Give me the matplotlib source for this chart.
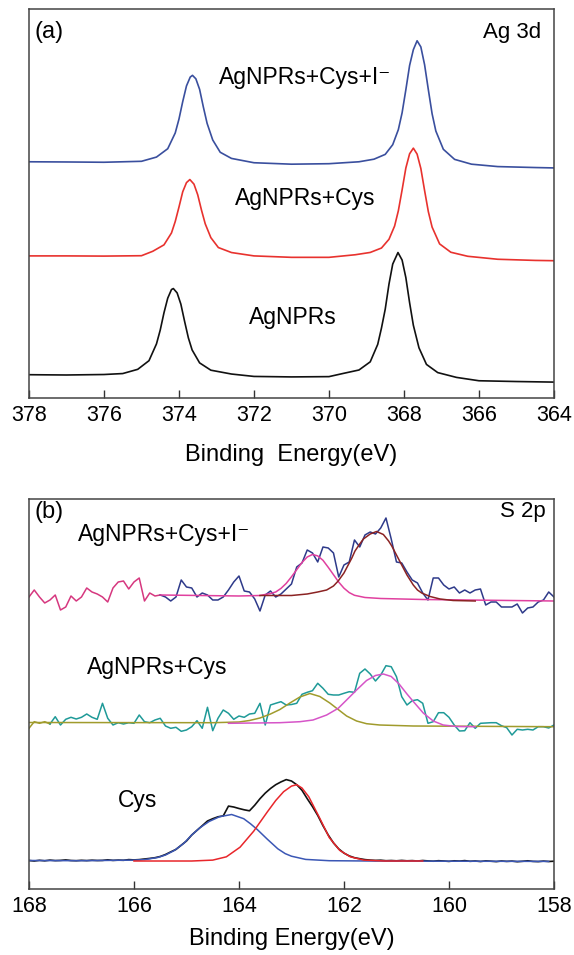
import matplotlib
matplotlib.use('Agg')
import matplotlib.pyplot as plt
import numpy as np

plt.rcParams['font.family'] = ['Liberation Sans', 'DejaVu Sans']
plt.rcParams['mathtext.default'] = 'regular'

# ---------------- (a) Ag 3d ----------------
ag_blue_x = [378.0, 377.0, 376.0, 375.5, 375.0, 374.6, 374.3, 374.1, 374.0, 373.9,
             373.8, 373.7, 373.64, 373.55, 373.45, 373.35, 373.25, 373.1, 372.9, 372.6,
             372.0, 371.0, 370.0, 369.2, 368.8, 368.5, 368.3, 368.15, 368.05, 367.95,
             367.85, 367.75, 367.65, 367.55, 367.45, 367.35, 367.25, 367.15, 366.95, 366.65,
             366.2, 365.5, 364.5, 364.0]
ag_blue_y = [246, 245.8, 245.5, 246, 246.5, 250.9, 259.6, 276, 290.5, 308.7,
             325, 334.2, 336, 332.4, 321.4, 303, 286, 268.7, 255.9, 249.5,
             245, 243.5, 244, 246, 248.7, 253.7, 263.8, 279.5, 297, 321,
             346.3, 362.7, 372, 365.6, 347, 321, 296, 278, 259, 248.5,
             243.5, 241, 240, 239.6]

ag_red_x = [378.0, 377.0, 376.0, 375.0, 374.7, 374.4, 374.2, 374.1, 374.0, 373.9,
            373.8, 373.71, 373.6, 373.5, 373.4, 373.3, 373.15, 372.95, 372.6, 372.0,
            371.0, 370.0, 369.3, 368.9, 368.6, 368.4, 368.25, 368.15, 368.05, 367.95,
            367.85, 367.75, 367.65, 367.55, 367.45, 367.35, 367.25, 367.05, 366.75, 366.3,
            365.5, 364.5, 364.0]
ag_red_y = [148, 148, 147.8, 148.2, 152.8, 159.5, 171.9, 183.8, 198.9, 214.8,
            224.3, 227.5, 222.7, 211.6, 195.7, 181.4, 167, 156.7, 151.5, 148,
            146.5, 146.5, 149.2, 151.6, 156.2, 165.3, 179.1, 195, 216.7, 239.5,
            254.3, 260.2, 254, 239, 216, 194, 178, 160.5, 151.8, 147.6,
            144.5, 143.3, 143]

ag_black_x = [378.0, 377.0, 376.0, 375.5, 375.1, 374.8, 374.6, 374.5, 374.4, 374.3,
              374.2, 374.15, 374.05, 373.95, 373.85, 373.75, 373.65, 373.45, 373.15, 372.6,
              372.0, 371.0, 370.0, 369.6, 369.2, 368.9, 368.7, 368.6, 368.5, 368.4,
              368.3, 368.16, 368.05, 367.95, 367.85, 367.75, 367.6, 367.4, 367.1, 366.6,
              366.0, 365.0, 364.0]
ag_black_y = [24.3, 24.0, 24.5, 25.5, 29.9, 38.9, 56.4, 70.8, 88.8, 104,
              113, 114, 109.5, 97.8, 79.8, 62.7, 50.1, 36.6, 29, 25,
              22.5, 22, 22.3, 25.8, 29.2, 37.7, 55.9, 72.9, 92.5, 118.6,
              139.5, 151.5, 143.7, 125.4, 99.3, 75.8, 52.3, 35, 26.5, 21.5,
              18, 17.2, 16.6]

# ---------------- (b) S 2p ----------------
# AgNPRs+Cys+I- : raw data (pink part 168.0-165.5, navy part 165.5-158.0, step 0.1 eV)
s_top_pink = [299, 306, 299, 293, 296, 301, 286, 289, 300, 295,
              299, 308, 304, 302, 299, 294, 308, 314, 315, 307,
              314, 318, 295, 303, 300, 301]
s_top_navy = [301, 299, 295, 299, 316, 309, 308, 299, 303, 301,
              296, 296, 299, 306, 314, 320, 305, 304, 297, 285,
              301, 305, 299, 302, 307, 312,
              329, 333, 346, 343, 334, 349, 348, 343, 319, 331,
              334, 356, 349, 361, 364, 362, 368, 378, 357, 334,
              333, 324, 316, 313, 303, 296, 318, 318, 311, 307,
              309, 303, 306, 303, 306, 307, 291, 294, 294, 289,
              289, 289, 292, 283, 288, 289, 294, 296, 304, 299]
s_top_fit1_x = [165.5, 164.0, 163.6, 163.4, 163.3, 163.2, 163.1, 163.0, 162.9, 162.8,
                162.7, 162.6, 162.5, 162.4, 162.3, 162.2, 162.1, 162.0, 161.9, 161.8,
                161.6, 161.3, 160.5, 158.0]
s_top_fit1_y = [301, 300, 300.5, 302.5, 304, 307.6, 312.6, 319.2, 326.3, 333.5,
                339, 341.5, 340.1, 335.7, 328.7, 321.3, 313.9, 307.8, 303.4, 300.7,
                298.5, 297.5, 296.5, 295]
s_top_fit2_x = [163.6, 163.0, 162.7, 162.5, 162.33, 162.2, 162.11, 162.0, 161.94, 161.85,
                161.79, 161.7, 161.63, 161.5, 161.38, 161.25, 161.15, 161.09, 160.96, 160.88,
                160.8, 160.68, 160.6, 160.52, 160.36, 160.17, 159.92, 159.5]
s_top_fit2_y = [300.5, 300.5, 302, 304, 306, 310, 315, 323, 329, 338,
                345, 352, 357, 362, 364.5, 361.5, 355, 350, 337, 329,
                321, 311, 306, 303, 299.5, 297, 295.5, 295]

# AgNPRs+Cys : raw data (olive part 168.0-167.6, teal part 167.6-158.0)
s_mid_olive = [167.7, 174.3, 172.7, 174.3, 172]
s_mid_teal = [172, 179.3, 171, 176.7, 178.7, 177, 178.7, 182, 178.7, 176.7,
              192.7, 177.7, 171, 173.3, 172, 173.3, 172.7, 181, 174.3, 173.3,
              176, 177.7, 170, 167.7, 168.7, 164.7, 166, 169.3, 175.3, 167.7,
              188.7, 165.3, 177.7, 186, 182.7, 176.7, 180, 178.7, 182, 182.7,
              192.7, 171, 191, 192.7, 194.3, 191, 191.5,
              192.7, 201.7, 203.7, 205.3, 212.7, 207.7, 201.7, 201, 201, 202.7,
              204.3, 203.7, 222.7, 227, 222, 215, 221, 230.3, 229.3, 219.3,
              199.3, 191, 195.3, 196.3, 192.7, 172.7, 174.3, 183.3, 183.3, 178.7,
              171, 165, 165.3, 173.3, 167.7, 172.7, 173, 173.3, 173.3, 170.3,
              168.3, 161, 166.7, 166, 166.7, 166, 169.3, 169.3, 168, 171]
s_mid_fit1_x = [168.0, 164.5, 164.0, 163.8, 163.6, 163.4, 163.22, 163.03, 162.84, 162.65,
                162.46, 162.27, 162.11, 161.95, 161.76, 161.57, 161.32, 160.68, 158.0]
s_mid_fit1_y = [173.5, 173.3, 174, 175.5, 178, 182, 186.5, 193, 199, 202.5,
                199.5, 193, 186.5, 180, 175, 172.3, 171, 170, 169.3]
s_mid_fit2_x = [164.2, 163.22, 162.84, 162.59, 162.33, 162.11, 161.95, 161.76, 161.57, 161.4,
                161.25, 161.1, 160.95, 160.8, 160.68, 160.49, 160.3, 160.11, 159.86, 159.5]
s_mid_fit2_y = [172.7, 173.3, 174.3, 176, 181, 187.7, 196, 206, 215.5, 220.5,
                222, 219.5, 212, 202, 194.5, 183, 175, 171, 169.5, 169.3]

# Cys : raw data 168.0-158.0, step 0.1 eV
s_cys = [35.5, 35, 35.7, 35.2, 35.9, 35.4, 35.6, 36.1, 35.5, 35.3,
         35.7, 35.4, 35.8, 35.5, 35.6, 36.2, 35.6, 35.9, 35.7, 36.4,
         36.1, 36.4, 37.0, 37.6, 38.3, 39.5, 41.5, 44.1, 46.6, 50.8,
         55.0, 61.0, 65.7, 70.3, 75.0, 77.3, 79.2, 80.1, 89.9, 89.0,
         87.5, 86.2, 85.2, 90.8, 97.3, 102.9, 107.5, 111.3, 114.1, 116.4,
         115.0, 111.3, 105.7, 97.3, 89.4, 80.6, 70.3, 61.0, 53.1, 47.1,
         42.9, 40.1, 38.3, 37.3, 36.4, 35.9, 35.6, 35.8, 35.3, 35.5,
         35.2, 35.6, 35.2, 35.4, 35.0, 35.5, 35.1, 34.8, 35.3, 35.0,
         34.6, 35.2, 34.9, 35.4, 34.7, 35.0, 34.5, 35.1, 34.8, 34.4,
         35.0, 34.6, 34.9, 34.3, 34.7, 35.2, 34.6, 34.4, 34.9, 34.5,
         34.8]
s_cys_fit1_x = [168.0, 167.0, 166.0, 165.8, 165.55, 165.4, 165.23, 165.05, 164.9, 164.75,
                164.57, 164.37, 164.14, 163.91, 163.78, 163.65, 163.46, 163.26, 163.12, 163.0,
                162.73, 162.28, 161.5, 160.0, 158.1]
s_cys_fit1_y = [35.5, 35.3, 35.9, 36.4, 38.5, 41.0, 45.6, 52.7, 61.0, 68.0,
                74.5, 79.3, 81.5, 77.3, 72.2, 66.4, 56.8, 47.2, 42.4, 39.8,
                36.6, 35.3, 35.0, 34.8, 34.6]
s_cys_fit2_x = [166.0, 164.9, 164.5, 164.24, 163.98, 163.72, 163.46, 163.3, 163.15, 163.0,
                162.9, 162.8, 162.67, 162.47, 162.28, 162.08, 161.88, 161.62, 161.23, 160.5]
s_cys_fit2_y = [35.0, 35.0, 35.9, 39.2, 48.8, 64.8, 84.1, 95.5, 104.3, 109.9,
                111.3, 108.0, 99.2, 78.7, 58.4, 45.6, 39.2, 35.9, 35.0, 35.0]

e_grid = np.round(np.arange(168.0, 157.95, -0.1), 1)
e_top_pink = e_grid[:len(s_top_pink)]
e_top_navy = e_grid[len(s_top_pink) - 1:]
e_mid_olive = e_grid[:len(s_mid_olive)]
e_mid_teal = e_grid[len(s_mid_olive) - 1:]
assert len(e_top_navy) == len(s_top_navy)
assert len(e_mid_teal) == len(s_mid_teal)
assert len(e_grid) == len(s_cys)


def style_axis(ax, xlim, xticks, ylim, xlabel, labelpad):
    ax.set_xlim(*xlim)
    ax.set_ylim(*ylim)
    ax.set_xticks(xticks)
    ax.set_yticks([])
    ax.tick_params(axis='x', direction='in', length=6, width=1.0,
                   labelsize=15.5, pad=5, color='#333333')
    for s in ax.spines.values():
        s.set_linewidth(1.1)
        s.set_color('#444444')
    ax.set_xlabel(xlabel, fontsize=17, labelpad=labelpad)


fig = plt.figure(figsize=(5.74, 9.55), dpi=100)

# panel (a)
ax1 = fig.add_axes([0.0505, 0.5832, 0.9146, 0.4073])
ax1.plot(ag_black_x, ag_black_y, color='#111111', lw=1.2)
ax1.plot(ag_red_x, ag_red_y, color='#e8322e', lw=1.2)
ax1.plot(ag_blue_x, ag_blue_y, color='#3a4f9e', lw=1.2)
style_axis(ax1, (378, 364), range(378, 363, -2), (0, 405), 'Binding  Energy(eV)', 13)
ax1.text(0.01, 0.941, '(a)', transform=ax1.transAxes, fontsize=17, va='center', ha='left')
ax1.text(0.975, 0.941, 'Ag 3d', transform=ax1.transAxes, fontsize=16, va='center', ha='right')
ax1.text(0.526, 0.823, 'AgNPRs+Cys+I\u207b', transform=ax1.transAxes, fontsize=16.5,
         va='center', ha='center')
ax1.text(0.527, 0.514, 'AgNPRs+Cys', transform=ax1.transAxes, fontsize=16.5,
         va='center', ha='center')
ax1.text(0.503, 0.208, 'AgNPRs', transform=ax1.transAxes, fontsize=16.5,
         va='center', ha='center')

# panel (b)
ax2 = fig.add_axes([0.0505, 0.0691, 0.9146, 0.4084])
ax2.plot(e_top_pink, s_top_pink, color='#d6377f', lw=1.1)
ax2.plot(e_top_navy, s_top_navy, color='#2e3a8a', lw=1.1)
ax2.plot(s_top_fit1_x, s_top_fit1_y, color='#e0409f', lw=1.1)
ax2.plot(s_top_fit2_x, s_top_fit2_y, color='#8b2323', lw=1.1)

ax2.plot(e_mid_olive, s_mid_olive, color='#a09b2c', lw=1.1)
ax2.plot(e_mid_teal, s_mid_teal, color='#1f9a98', lw=1.1)
ax2.plot(s_mid_fit1_x, s_mid_fit1_y, color='#a09b2c', lw=1.1)
ax2.plot(s_mid_fit2_x, s_mid_fit2_y, color='#d655c8', lw=1.1)

ax2.plot(e_grid, s_cys, color='#111111', lw=1.2)
ax2.plot(s_cys_fit1_x, s_cys_fit1_y, color='#3b57b5', lw=1.1)
ax2.plot(s_cys_fit2_x, s_cys_fit2_y, color='#e8262b', lw=1.1)

style_axis(ax2, (168, 158), range(168, 157, -2), (7, 397), 'Binding Energy(eV)', 8)
ax2.text(0.01, 0.967, '(b)', transform=ax2.transAxes, fontsize=17, va='center', ha='left')
ax2.text(0.985, 0.967, 'S 2p', transform=ax2.transAxes, fontsize=16, va='center', ha='right')
ax2.text(0.093, 0.908, 'AgNPRs+Cys+I\u207b', transform=ax2.transAxes, fontsize=16.5,
         va='center', ha='left')
ax2.text(0.11, 0.569, 'AgNPRs+Cys', transform=ax2.transAxes, fontsize=16.5,
         va='center', ha='left')
ax2.text(0.17, 0.228, 'Cys', transform=ax2.transAxes, fontsize=16.5,
         va='center', ha='left')

fig.savefig('out.png', dpi=100)
